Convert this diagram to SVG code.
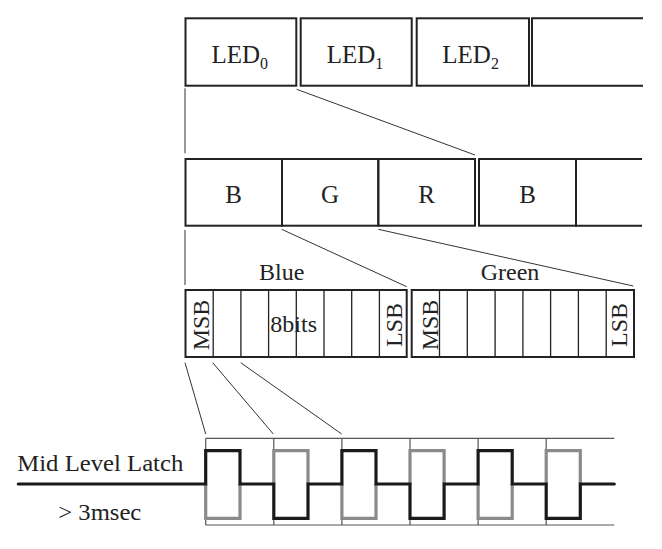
<svg xmlns="http://www.w3.org/2000/svg" width="662" height="549" viewBox="0 0 662 549">
<style>
.box{fill:none;stroke:#222;stroke-width:2}
.div{fill:none;stroke:#222;stroke-width:1.3}
.con{fill:none;stroke:#333;stroke-width:1}
.grid{fill:none;stroke:#555;stroke-width:1.2}
.blk{fill:none;stroke:#1a1a1a;stroke-width:3.2;stroke-linejoin:miter;stroke-linecap:round}
.gry{fill:none;stroke:#8a8a8a;stroke-width:3.2;stroke-linejoin:miter}
text{font-family:"Liberation Serif","Times New Roman",serif;fill:#222}
.t25{font-size:25px}
.t24{font-size:24px}
.sub{font-size:16px}
.mid{text-anchor:middle}
</style>
<rect width="662" height="549" fill="#fff"/>
<g id="led0"><rect class="box" x="185.5" y="18.3" width="110.8" height="67.4"/><text class="t25" x="211.5" y="63.3">LED<tspan class="sub" dy="5.7">0</tspan></text></g>
<g id="led1"><rect class="box" x="300.7" y="18.3" width="111" height="67.4"/><text class="t25" x="326.7" y="63.3">LED<tspan class="sub" dy="5.7">1</tspan></text></g>
<g id="led2"><rect class="box" x="416.7" y="18.3" width="112.3" height="67.4"/><text class="t25" x="442.3" y="63.3">LED<tspan class="sub" dy="5.7">2</tspan></text></g>
<g id="led3"><path class="box" d="M643,18.3 H532 V85.7 H643"/></g>
<g id="byte-b"><rect class="box" x="185.5" y="159" width="96.5" height="66.7"/><text class="t25 mid" x="233.5" y="203.3">B</text></g>
<g id="byte-g"><rect class="box" x="282" y="159" width="96.3" height="66.7"/><text class="t25 mid" x="330" y="203.3">G</text></g>
<g id="byte-r"><rect class="box" x="378.3" y="159" width="96.7" height="66.7"/><text class="t25 mid" x="426.5" y="203.3">R</text></g>
<g id="byte-b2"><rect class="box" x="479" y="159" width="97" height="66.7"/><text class="t25 mid" x="527.5" y="203.3">B</text></g>
<g id="byte-more"><path class="box" d="M642,159 H576 V225.7 H642"/></g>
<g id="bits-blue">
<text class="t24 mid" x="281.7" y="280">Blue</text>
<rect class="box" x="185.5" y="290" width="221.2" height="67"/>
<path class="div" d="M213.2,290V357M240.9,290V357M268.6,290V357M296.3,290V357M324,290V357M351.7,290V357M379.4,290V357"/>
<text class="t24 mid" transform="translate(209.3,325) rotate(-90)">MSB</text>
<text class="t24 mid" x="293.7" y="331.7">8bits</text>
<text class="t24 mid" transform="translate(401.7,325) rotate(-90)">LSB</text>
</g>
<g id="bits-green">
<text class="t24 mid" x="510" y="280">Green</text>
<rect class="box" x="411.7" y="290" width="222.3" height="67"/>
<path class="div" d="M439.5,290V357M467.3,290V357M495.1,290V357M522.9,290V357M550.6,290V357M578.4,290V357M606.2,290V357"/>
<text class="t24 mid" transform="translate(438.3,325) rotate(-90)">MSB</text>
<text class="t24 mid" transform="translate(626.7,325) rotate(-90)">LSB</text>
</g>
<g id="connectors">
<path class="con" d="M185,88.3 V153.3"/>
<path class="con" d="M296.7,89.3 L475,155"/>
<path class="con" d="M185,230 V285"/>
<path class="con" d="M281.7,229.3 L406.7,286.7"/>
<path class="con" d="M378.3,229.3 L633.3,286"/>
<path class="con" d="M185,362.7 L205.7,434"/>
<path class="con" d="M212.7,362.7 L273.3,434"/>
<path class="con" d="M240.7,362.7 L341.7,434"/>
</g>
<g id="waveform">
<path class="grid" d="M205.7,438.3 H614.3 M205.7,525 H614.3 M205.7,438.3 V525 M273.8,438.3 V525 M341.9,438.3 V525 M410,438.3 V525 M478.1,438.3 V525 M546.2,438.3 V525"/>
<path class="gry" d="M205.7,484 V518.3 H240 V484 M273.8,484 V450.7 H308 V484 M341.9,484 V518.3 H376 V484 M410,484 V450.7 H444.1 V484 M478.1,484 V518.3 H512.2 V484 M546.2,484 V450.7 H580.3 V484"/>
<path class="blk" d="M18.3,484 H205.7 V450.7 H240 V484 H273.8 V518.3 H308 V484 H341.9 V450.7 H376 V484 H410 V518.3 H444.1 V484 H478.1 V450.7 H512.2 V484 H546.2 V518.3 H580.3 V484 H614.3"/>
<text class="t24" x="17.3" y="471" textLength="166" lengthAdjust="spacingAndGlyphs">Mid Level Latch</text>
<text class="t24" x="58.3" y="520" textLength="83" lengthAdjust="spacingAndGlyphs">&gt; 3msec</text>
</g>
</svg>
